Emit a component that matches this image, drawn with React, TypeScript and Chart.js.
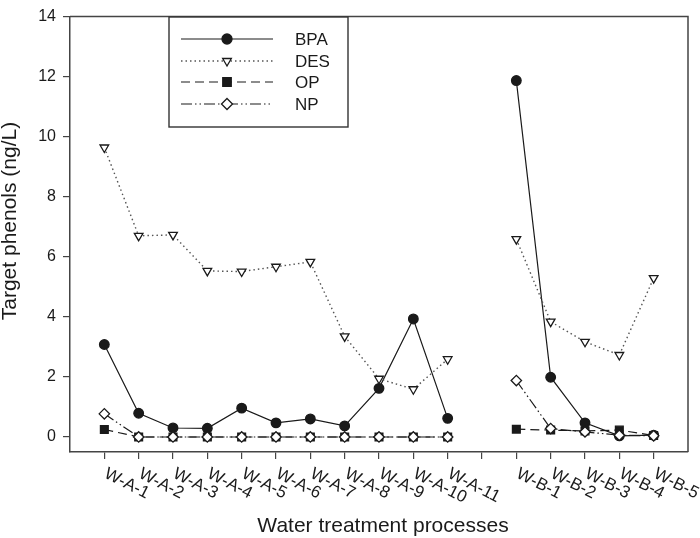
import React, { useEffect, useRef } from 'react';
import { Chart, registerables } from 'chart.js';

Chart.register(...registerables);

const categories = [
  'W-A-1', 'W-A-2', 'W-A-3', 'W-A-4', 'W-A-5', 'W-A-6', 'W-A-7', 'W-A-8', 'W-A-9', 'W-A-10', 'W-A-11',
  '',
  'W-B-1', 'W-B-2', 'W-B-3', 'W-B-4', 'W-B-5',
];
const bpa = [3.08, 0.79, 0.3, 0.29, 0.96, 0.47, 0.6, 0.37, 1.62, 3.93, 0.62, null, 11.87, 1.99, 0.47, 0.04, 0.06];
const des = [9.64, 6.7, 6.73, 5.53, 5.51, 5.67, 5.83, 3.35, 1.94, 1.59, 2.59, null, 6.59, 3.84, 3.17, 2.73, 5.29];
const op = [0.25, 0, 0, 0, 0, 0, 0, 0, 0, 0, 0, null, 0.26, 0.23, 0.2, 0.23, 0.05];
const np = [0.77, 0, 0, 0, 0, 0, 0, 0, 0, 0, 0, null, 1.88, 0.28, 0.17, 0.06, 0.04];
const yTicks = [0, 2, 4, 6, 8, 10, 12, 14];
const seriesNames = ['BPA', 'DES', 'OP', 'NP'];
const xTitle = 'Water treatment processes';
const yTitle = 'Target phenols (ng/L)';

const FONT = "'Liberation Sans', Arial, sans-serif";
const INK = '#1a1a1a';

const toPts = (arr: (number | null)[]) => arr.map((v, i) => ({ x: i, y: v }));

function drawMarker(ctx: CanvasRenderingContext2D, style: string, x: number, y: number, r: number, fill: string, stroke: string) {
  ctx.save();
  ctx.beginPath();
  if (style === 'circle') {
    ctx.arc(x, y, r, 0, Math.PI * 2);
  } else if (style === 'triangleDown') {
    ctx.moveTo(x - r * 0.866, y - r * 0.5);
    ctx.lineTo(x + r * 0.866, y - r * 0.5);
    ctx.lineTo(x, y + r);
    ctx.closePath();
  } else if (style === 'rect') {
    const s = r * 0.7071;
    ctx.rect(x - s, y - s, 2 * s, 2 * s);
  } else if (style === 'rectRot') {
    ctx.moveTo(x, y - r);
    ctx.lineTo(x + r, y);
    ctx.lineTo(x, y + r);
    ctx.lineTo(x - r, y);
    ctx.closePath();
  }
  ctx.fillStyle = fill;
  ctx.fill();
  ctx.setLineDash([]);
  ctx.lineWidth = 1.3;
  ctx.strokeStyle = stroke;
  ctx.stroke();
  ctx.restore();
}

const legendStyles = [
  { marker: 'circle', fill: INK, dash: [] as number[], color: INK, r: 5 },
  { marker: 'triangleDown', fill: '#fff', dash: [1.5, 3], color: '#555', r: 5 },
  { marker: 'rect', fill: INK, dash: [9, 5], color: INK, r: 6 },
  { marker: 'rectRot', fill: '#fff', dash: [11, 3, 1.5, 3, 1.5, 3], color: INK, r: 5.5 },
];

const customPlugin = {
  id: 'custom',
  afterDraw(chart: any) {
    const ctx: CanvasRenderingContext2D = chart.ctx;
    const { left, right, top, bottom } = chart.chartArea;
    const xs = chart.scales.x;
    ctx.save();
    // frame top & right
    ctx.strokeStyle = '#444';
    ctx.lineWidth = 1.5;
    ctx.setLineDash([]);
    ctx.beginPath();
    ctx.moveTo(left, top);
    ctx.lineTo(right, top);
    ctx.lineTo(right, bottom);
    ctx.stroke();

    // x tick labels rotated clockwise, starting at the tick
    ctx.fillStyle = INK;
    ctx.font = `17px ${FONT}`;
    categories.forEach((c, i) => {
      if (!c) return;
      const px = xs.getPixelForValue(i);
      ctx.save();
      ctx.translate(px - 1, xs.top + 25);
      ctx.rotate((27 * Math.PI) / 180);
      ctx.textAlign = 'left';
      ctx.textBaseline = 'alphabetic';
      ctx.fillText(c, 0, 0);
      ctx.restore();
    });

    // x title
    ctx.font = `21px ${FONT}`;
    ctx.textAlign = 'center';
    ctx.textBaseline = 'alphabetic';
    ctx.fillText(xTitle, 383, 532);

    // y title
    ctx.save();
    ctx.translate(10, 221);
    ctx.rotate(-Math.PI / 2);
    ctx.font = `21px ${FONT}`;
    ctx.textAlign = 'center';
    ctx.textBaseline = 'middle';
    ctx.fillText(yTitle, 0, 0);
    ctx.restore();

    // legend
    const lx = 169, ly = 17, lw = 179, lh = 110;
    ctx.fillStyle = '#fff';
    ctx.fillRect(lx, ly, lw, lh);
    ctx.strokeStyle = '#333';
    ctx.lineWidth = 1.4;
    ctx.strokeRect(lx, ly, lw, lh);
    const rows = [39, 61, 82, 104];
    seriesNames.forEach((name, i) => {
      const st = legendStyles[i];
      const y = rows[i];
      ctx.save();
      ctx.beginPath();
      ctx.setLineDash(st.dash);
      ctx.strokeStyle = st.color;
      ctx.lineWidth = i === 1 ? 1.3 : 1.2;
      ctx.moveTo(181, y);
      ctx.lineTo(273, y);
      ctx.stroke();
      ctx.restore();
      drawMarker(ctx, st.marker, 227, y, st.r, st.fill, INK);
      ctx.fillStyle = INK;
      ctx.font = `17px ${FONT}`;
      ctx.textAlign = 'left';
      ctx.textBaseline = 'middle';
      ctx.fillText(name, 295, y + 1);
    });
    ctx.restore();
  },
};

export default function App() {
  const ref = useRef<HTMLCanvasElement | null>(null);
  useEffect(() => {
    if (!ref.current) return;
    const common = { spanGaps: false, borderWidth: 1.2, pointBorderWidth: 1.3, pointBorderColor: INK };
    const chart = new Chart(ref.current, {
      type: 'line',
      data: {
        datasets: [
          {
            ...common,
            label: seriesNames[0],
            data: toPts(bpa),
            borderColor: INK,
            pointStyle: 'circle',
            pointRadius: 4.8,
            pointBackgroundColor: INK,
            order: 3,
          },
          {
            ...common,
            label: seriesNames[1],
            data: toPts(des),
            borderColor: '#555',
            borderWidth: 1.4,
            borderDash: [1.5, 3],
            pointStyle: 'triangle',
            rotation: 180,
            pointRadius: 5,
            pointBackgroundColor: '#fff',
            order: 2,
          },
          {
            ...common,
            label: seriesNames[2],
            data: toPts(op),
            borderColor: INK,
            borderDash: [9, 5],
            pointStyle: 'rect',
            pointRadius: 5.5,
            pointBackgroundColor: INK,
            order: 1,
          },
          {
            ...common,
            label: seriesNames[3],
            data: toPts(np),
            borderColor: INK,
            borderDash: [11, 3, 1.5, 3, 1.5, 3],
            pointStyle: 'rectRot',
            pointRadius: 5.2,
            pointBackgroundColor: '#fff',
            order: 0,
          },
        ] as any,
      },
      options: {
        animation: false,
        responsive: false,
        events: [],
        layout: { padding: { top: 8, right: 12, left: 0, bottom: 0 } },
        plugins: { legend: { display: false }, tooltip: { enabled: false } },
        scales: {
          x: {
            type: 'linear',
            min: -1,
            max: 17,
            afterBuildTicks: (scale: any) => {
              scale.ticks = categories.map((_, i) => ({ value: i }));
            },
            afterFit: (scale: any) => {
              scale.height = 86;
            },
            ticks: { display: false },
            grid: { drawOnChartArea: false, drawTicks: true, tickLength: 7, color: '#444', lineWidth: 1.2 },
            border: { display: true, color: '#444', width: 1.5 },
          },
          y: {
            type: 'linear',
            min: -0.5,
            max: 14,
            afterBuildTicks: (scale: any) => {
              scale.ticks = yTicks.map((v) => ({ value: v }));
            },
            afterFit: (scale: any) => {
              scale.width = 70;
            },
            ticks: { font: { family: FONT, size: 16 }, color: INK, padding: 7 },
            grid: { drawOnChartArea: false, drawTicks: true, tickLength: 7, color: '#444', lineWidth: 1.2 },
            border: { display: true, color: '#444', width: 1.5 },
          },
        },
      } as any,
      plugins: [customPlugin],
    });
    return () => chart.destroy();
  }, []);
  return (
    <div style={{ position: 'fixed', left: 0, top: 0, width: 700, height: 538, background: '#fff' }}>
      <canvas ref={ref} width={700} height={538} style={{ display: 'block' }} />
    </div>
  );
}
